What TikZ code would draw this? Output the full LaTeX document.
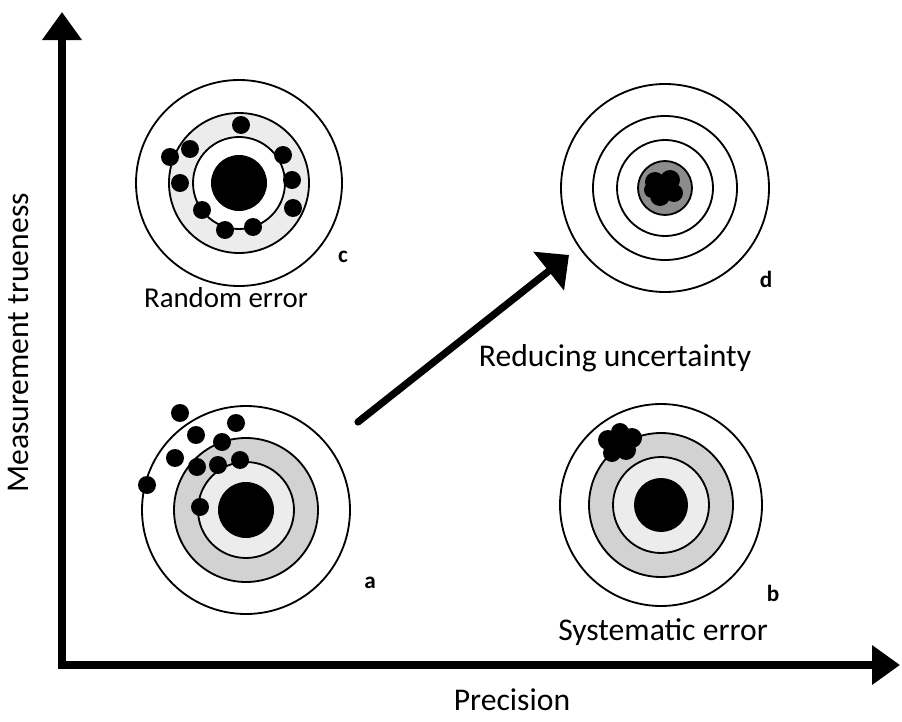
\documentclass[tikz,border=0pt]{standalone}
\usepackage{fontspec}
\setmainfont{Carlito}
\usetikzlibrary{arrows.meta, positioning}
\definecolor{stipple}{HTML}{D2D2D2}
\definecolor{speck}{HTML}{ECECEC}
\definecolor{bullring}{HTML}{8C8C8C}

\begin{document}
\begin{tikzpicture}[
  x=0.025cm, y=-0.025cm,
  axis/.style={line width=0.2cm, line join=miter, {Triangle[length=0.7cm, width=0.95cm]}-{Triangle[length=0.7cm, width=0.95cm]}},
  pointer/.style={line width=0.18cm, line cap=round, -{Triangle[length=0.65cm, width=1.2cm]}},
  ring/.style={draw, line width=1.3pt},
  shot/.style={fill=black},
  caption/.style={font=\fontsize{22.5}{27}\selectfont, inner sep=0pt},
  tag/.style={font=\fontsize{16.5}{20}\selectfont\bfseries, inner sep=0pt},
]
\useasboundingbox (0,0) rectangle (902,722);

% axes
\coordinate (ytip) at (62,12);
\coordinate (origin) at (62,665);
\coordinate (xtip) at (900,665);
\draw[axis] (ytip) -- (origin) -- (xtip);
\node[caption, rotate=90] (trueness) at (18,343) {Measurement trueness};
\node[caption] (precision) at (512,700) {Precision};

% target c: random error
\filldraw[ring, fill=white] (239,183) circle (103);
\filldraw[ring, fill=speck] (239,183) circle (70);
\filldraw[ring, fill=white] (239,183) circle (46);
\fill[black] (239,183) circle (28);
\foreach \p in {(241,125),(190,149),(170,157),(180,183),(283,155),(292,180),(293,208),(202,210),(225,230),(253,227)}
  \fill[shot] \p circle (9);
\node[tag] (tagc) at (343,257) {c};
\node[caption, font=\fontsize{20.5}{25}\selectfont] (random) at (226,298) {Random error};

% target d: reduced uncertainty
\filldraw[ring, fill=white] (665,188) circle (104);
\draw[ring] (665,188) circle (72);
\draw[ring] (665,188) circle (48);
\filldraw[ring, fill=bullring] (665,188) circle (27);
\fill[black] (655,182) circle (10) (670,180) circle (10) (674,193) circle (9)
  (660,196) circle (10) (652,190) circle (8) (664,188) circle (11);
\node[tag] (tagd) at (766,279) {d};
\node[caption] (reducing) at (615,358) {Reducing uncertainty};

% target a
\filldraw[ring, fill=white] (246,510) circle (104);
\filldraw[ring, fill=stipple] (246,510) circle (72);
\filldraw[ring, fill=speck] (246,510) circle (48);
\fill[black] (246,510) circle (28);
\foreach \p in {(180,413),(236,423),(196,435),(222,442),(175,458),(197,467),(218,465),(240,460),(147,485),(200,507)}
  \fill[shot] \p circle (9);
\node[tag] (taga) at (370,583) {a};

% target b: systematic error
\filldraw[ring, fill=white] (661,505) circle (101);
\filldraw[ring, fill=stipple] (661,505) circle (72);
\filldraw[ring, fill=speck] (661,505) circle (48);
\fill[black] (661,505) circle (27);
\fill[black] (608,440) circle (10) (620,432) circle (9) (632,438) circle (10)
  (626,450) circle (10) (612,453) circle (9) (620,443) circle (10);
\node[tag] (tagb) at (773,593) {b};
\node[caption] (systematic) at (663,632) {Systematic error};

% improvement arrow
\coordinate (from) at (358,422);
\coordinate (to) at (569,255);
\draw[pointer] (from) -- (to);
\end{tikzpicture}
\end{document}
